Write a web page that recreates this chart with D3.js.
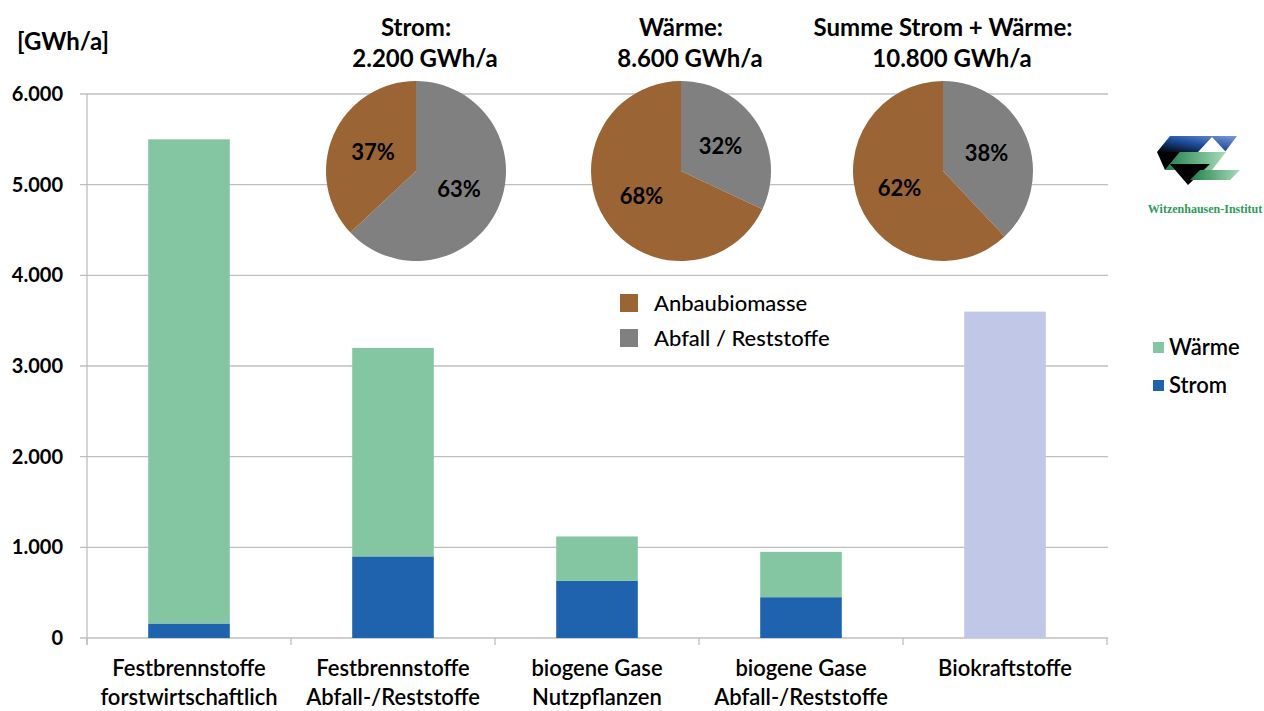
<!DOCTYPE html>
<html><head><meta charset="utf-8">
<script src="https://cdn.jsdelivr.net/npm/d3@7"></script>
<style>body{margin:0;background:#fff;}svg{display:block;font-family:Lato,"Open Sans",sans-serif;}</style>
</head><body>
<svg id="c" width="1264" height="711"></svg>
<script>
const categories = [["Festbrennstoffe","forstwirtschaftlich"],["Festbrennstoffe","Abfall-/Reststoffe"],["biogene Gase","Nutzpflanzen"],["biogene Gase","Abfall-/Reststoffe"],["Biokraftstoffe"]];
const strom = [160, 900, 630, 450, 0];
const waerme = [5340, 2300, 490, 500, 0];
const biokraft = [0, 0, 0, 0, 3600];
const yTicks = [0,1000,2000,3000,4000,5000,6000];
const pieTitles = [["Strom:","2.200 GWh/a"],["Wärme:","8.600 GWh/a"],["Summe Strom + Wärme:","10.800 GWh/a"]];
const anbauShare = [37, 68, 62];
const abfallShare = [63, 32, 38];
const pieLegend = ["Anbaubiomasse","Abfall / Reststoffe"];
const barLegend = ["Wärme","Strom"];

const C = {green:"#84C6A2", blue:"#1F63AE", lav:"#C1C7E6", brown:"#9A6434", grey:"#808080", grid:"#BFBFBF"};
const svg = d3.select("#c");
const catKeys = categories.map(c=>c.join(" "));
const x = d3.scaleBand(catKeys,[87,1107]).paddingInner(0.6).paddingOuter(0.3);
const y = d3.scaleLinear([0,6000],[638,94]);
const fmt = d => d3.format(",")(d).replace(/,/g,".");

// grid
svg.append("g").selectAll("line").data(yTicks).join("line")
  .attr("x1",80).attr("x2",1108).attr("y1",d=>y(d)).attr("y2",d=>y(d))
  .attr("stroke",C.grid).attr("stroke-width",1.3);
svg.append("line").attr("x1",87).attr("x2",87).attr("y1",94).attr("y2",645).attr("stroke",C.grid).attr("stroke-width",1.3);
const bounds = d3.range(catKeys.length+1).map(i=>x.range()[0]+i*x.step());
svg.append("g").selectAll("line").data(bounds).join("line")
  .attr("x1",d=>d).attr("x2",d=>d).attr("y1",638).attr("y2",645).attr("stroke",C.grid).attr("stroke-width",1.3);
svg.append("g").selectAll("text").data(yTicks).join("text")
  .attr("x",63).attr("y",d=>y(d)).attr("dy","0.35em").attr("text-anchor","end")
  .attr("font-size",20).attr("font-weight","bold").text(fmt);
svg.append("text").attr("x",17).attr("y",50).attr("font-size",24).attr("font-weight","bold").text("[GWh/a]");

// bars
const bw = x.bandwidth();
const g = svg.append("g");
g.selectAll(".s").data(catKeys).join("rect")
  .attr("x",d=>x(d)).attr("width",bw)
  .attr("y",(d,i)=>y(strom[i])).attr("height",(d,i)=>y(0)-y(strom[i])).attr("fill",C.blue);
g.selectAll(".w").data(catKeys).join("rect")
  .attr("x",d=>x(d)).attr("width",bw)
  .attr("y",(d,i)=>y(strom[i]+waerme[i])).attr("height",(d,i)=>y(strom[i])-y(strom[i]+waerme[i])).attr("fill",C.green);
g.selectAll(".b").data(catKeys).join("rect")
  .attr("x",d=>x(d)).attr("width",bw)
  .attr("y",(d,i)=>y(biokraft[i])).attr("height",(d,i)=>y(0)-y(biokraft[i])).attr("fill",C.lav);

// x labels
categories.forEach((lines,i)=>{
  const t = svg.append("text").attr("text-anchor","middle").attr("font-size",22).attr("font-weight",600);
  lines.forEach((l,j)=>t.append("tspan").attr("x",x(catKeys[i])+bw/2).attr("y",676+j*29).text(l));
});

// pies
const pieCx = [416, 681, 943];
const R = 90;
const pie = d3.pie().sort(null).value(d=>d.v);
const arc = d3.arc().innerRadius(0).outerRadius(R);
const lab = d3.arc().innerRadius(R*0.52).outerRadius(R*0.52);
pieCx.forEach((cx,i)=>{
  const pg = svg.append("g").attr("transform",`translate(${cx},171)`);
  const data = pie([{v:abfallShare[i],c:C.grey},{v:anbauShare[i],c:C.brown}]);
  pg.selectAll("path").data(data).join("path").attr("d",arc).attr("fill",d=>d.data.c);
  pg.selectAll("text").data(data).join("text")
    .attr("transform",d=>`translate(${lab.centroid(d)})`).attr("text-anchor","middle").attr("dy","0.35em")
    .attr("font-size",22).attr("font-weight","bold").text(d=>d.data.v+"%");
  const t = svg.append("text").attr("text-anchor","middle").attr("font-size",24).attr("font-weight","bold");
  t.append("tspan").attr("x",cx).attr("y",36).text(pieTitles[i][0]);
  t.append("tspan").attr("x",cx+9).attr("y",67).text(pieTitles[i][1]);
});

// pie legend
[C.brown,C.grey].forEach((c,i)=>{
  svg.append("rect").attr("x",620).attr("y",294+i*35).attr("width",18).attr("height",18).attr("fill",c);
  svg.append("text").attr("x",654).attr("y",303+i*35).attr("dy","0.35em").attr("font-size",22).attr("font-weight",500).text(pieLegend[i]);
});
// bar legend
[C.green,C.blue].forEach((c,i)=>{
  svg.append("rect").attr("x",1153).attr("y",342+i*38).attr("width",11).attr("height",11).attr("fill",c);
  svg.append("text").attr("x",1169).attr("y",347+i*38).attr("dy","0.35em").attr("font-size",22).attr("font-weight",600).text(barLegend[i]);
});

// logo
const defs = svg.append("defs");
const lg = defs.append("linearGradient").attr("id","lgb").attr("x1","0").attr("x2","1").attr("y1","1").attr("y2","0");
lg.append("stop").attr("offset","0").attr("stop-color","#000");
lg.append("stop").attr("offset","0.5").attr("stop-color","#1F4FA0");
lg.append("stop").attr("offset","1").attr("stop-color","#7F9BD6");
const lgg = defs.append("linearGradient").attr("id","lgg").attr("x1","0").attr("x2","1");
lgg.append("stop").attr("offset","0").attr("stop-color","#1E7E4A");
lgg.append("stop").attr("offset","1").attr("stop-color","#A8DCB8");
const L = svg.append("g");
L.append("polygon").attr("points","1170,136 1237,136 1225,152 1157,152").attr("fill","url(#lgb)");
L.append("polygon").attr("points","1212,137 1198,152 1226,152").attr("fill","#fff");
L.append("polygon").attr("points","1180,152 1226,152 1212,170 1165,170").attr("fill","url(#lgg)");
L.append("polygon").attr("points","1157,152 1180,152 1165,170").attr("fill","#000");
L.append("polygon").attr("points","1170,164 1210,164 1188,185").attr("fill","#000");
L.append("polygon").attr("points","1200,170 1240,170 1230,180 1190,180").attr("fill","url(#lgg)");
svg.append("text").attr("x",1205).attr("y",213).attr("text-anchor","middle").attr("font-family","'Liberation Serif',serif")
  .attr("font-weight","bold").attr("font-size",12).attr("fill","#2E9A5C").text("Witzenhausen-Institut");
</script>
</body></html>
